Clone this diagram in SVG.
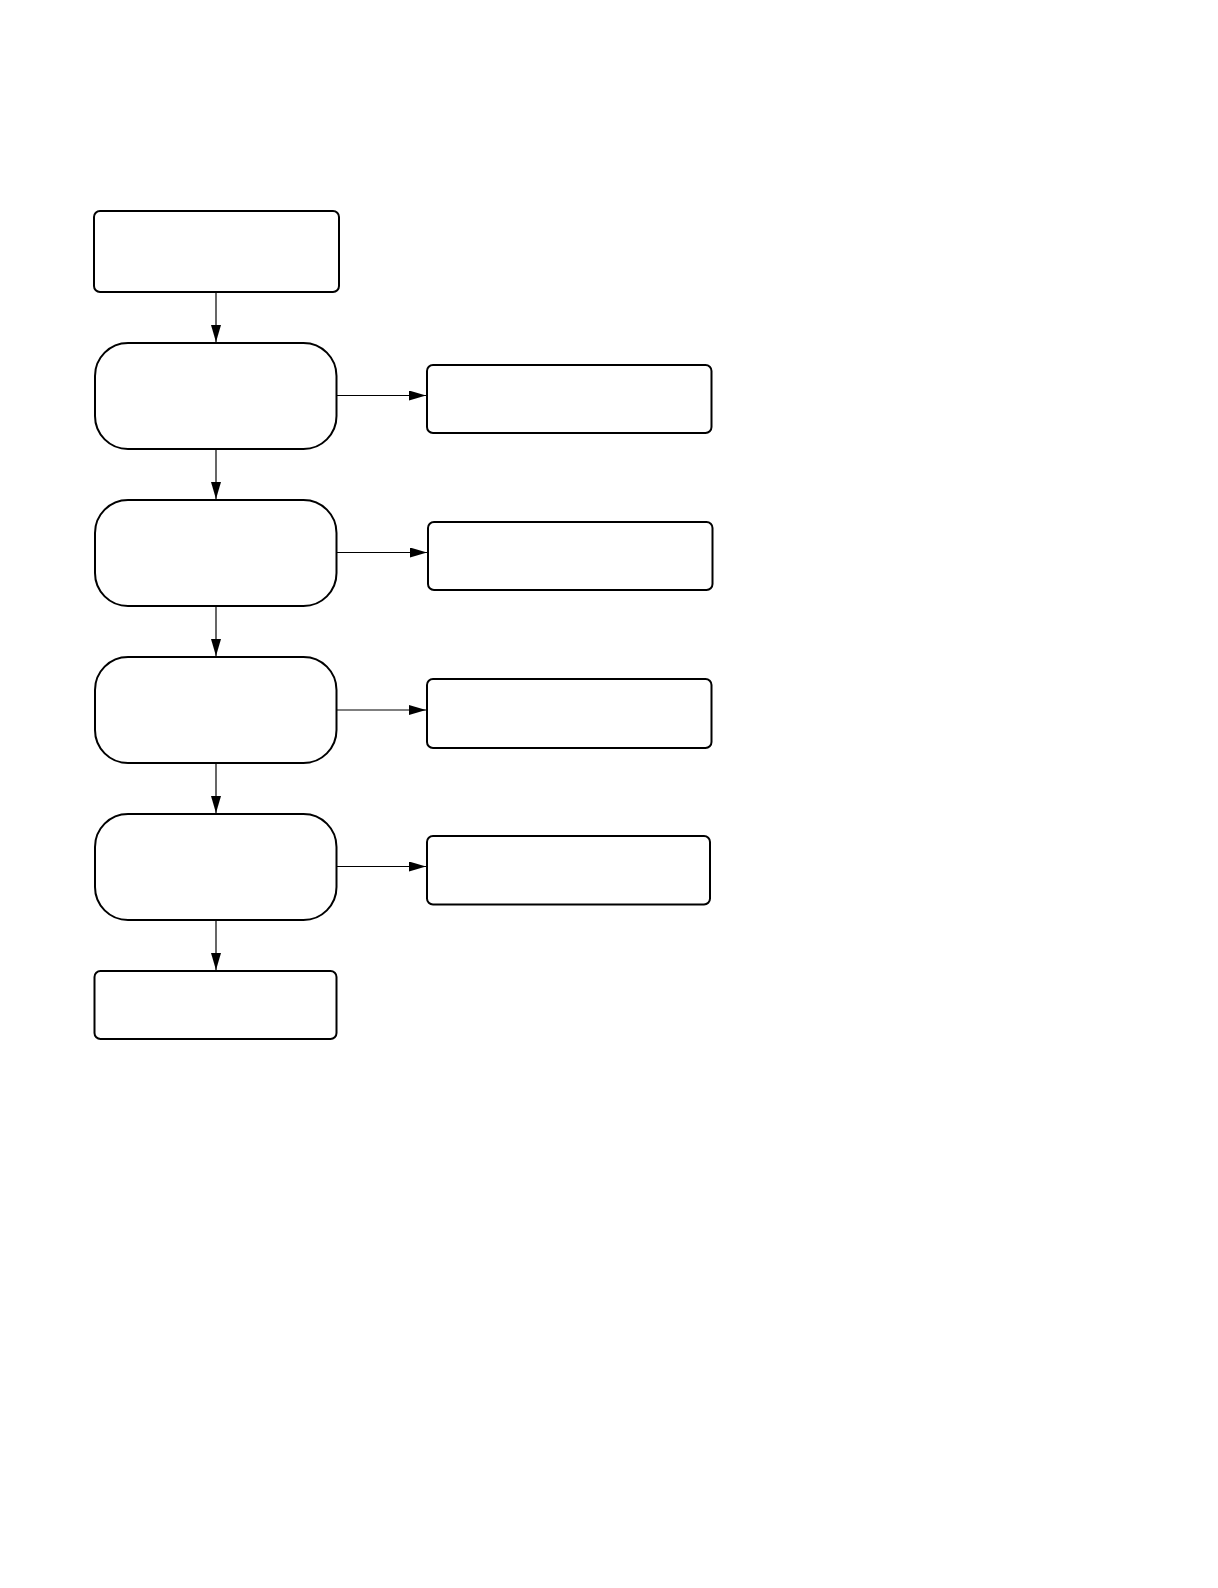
<svg xmlns="http://www.w3.org/2000/svg" width="1218" height="1588" viewBox="0 0 1218 1588">
<style>
.n{fill:#fff;stroke:#000;stroke-width:2}
.c{fill:none;stroke:#000;stroke-width:1.2}
</style>
<defs>
<marker id="a" viewBox="0 0 17 10" refX="17" refY="5" markerWidth="17" markerHeight="10" markerUnits="userSpaceOnUse" orient="auto">
<path d="M0,0 L17,5 L0,10 Z" fill="#000"/>
</marker>
</defs>
<rect width="1218" height="1588" fill="#fff"/>
<g id="connectors">
<line class="c" x1="216" y1="292" x2="216" y2="342" marker-end="url(#a)"/>
<line class="c" x1="216" y1="449" x2="216" y2="499" marker-end="url(#a)"/>
<line class="c" x1="216" y1="606" x2="216" y2="656" marker-end="url(#a)"/>
<line class="c" x1="216" y1="763" x2="216" y2="813" marker-end="url(#a)"/>
<line class="c" x1="216" y1="920" x2="216" y2="970" marker-end="url(#a)"/>
<line class="c" x1="337" y1="395.5" x2="426" y2="395.5" marker-end="url(#a)"/>
<line class="c" x1="337" y1="552.5" x2="427" y2="552.5" marker-end="url(#a)"/>
<line class="c" x1="337" y1="710" x2="426" y2="710" marker-end="url(#a)"/>
<line class="c" x1="337" y1="866.5" x2="426" y2="866.5" marker-end="url(#a)"/>
</g>
<g id="start"><rect class="n" x="94" y="211" width="245" height="81" rx="6"/></g>
<g id="step1"><rect class="n" x="95" y="343" width="241.5" height="106" rx="33"/></g>
<g id="step2"><rect class="n" x="95" y="500" width="241.5" height="106" rx="33"/></g>
<g id="step3"><rect class="n" x="95" y="657" width="241.5" height="106" rx="33"/></g>
<g id="step4"><rect class="n" x="95" y="814" width="241.5" height="106" rx="33"/></g>
<g id="end"><rect class="n" x="94.5" y="971" width="242" height="68" rx="6"/></g>
<g id="side1"><rect class="n" x="427" y="365" width="284.5" height="68" rx="6"/></g>
<g id="side2"><rect class="n" x="428" y="522" width="284.5" height="68" rx="6"/></g>
<g id="side3"><rect class="n" x="427" y="679" width="284.5" height="69" rx="6"/></g>
<g id="side4"><rect class="n" x="427" y="836" width="283" height="68.5" rx="6"/></g>
</svg>
